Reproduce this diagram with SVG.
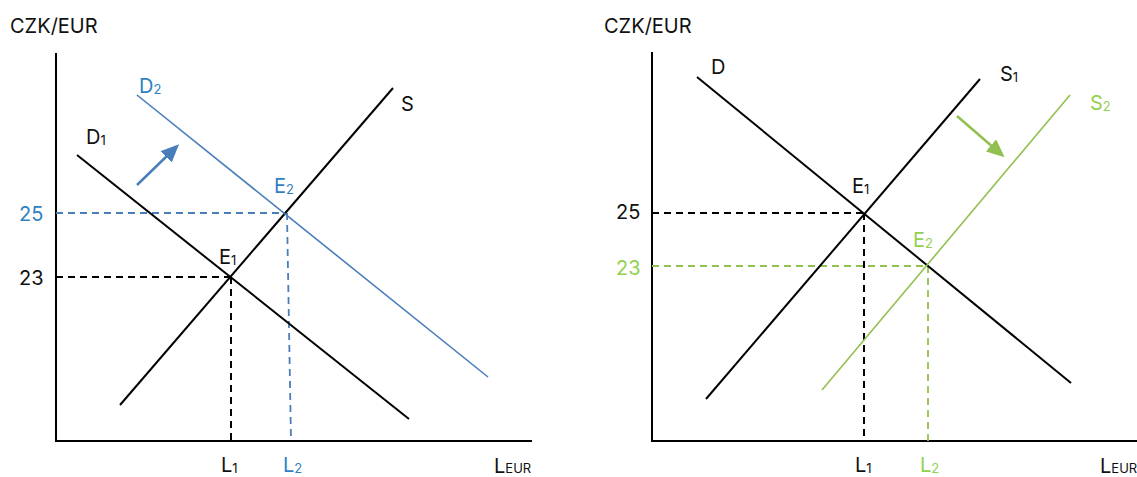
<svg xmlns="http://www.w3.org/2000/svg" width="1137" height="477" viewBox="0 0 1137 477">
<defs>
<style>
text{font-family:Inter,"Liberation Sans",sans-serif;font-size:20px;fill:#111}
.sub{font-size:13px}
.blue{fill:#2f7fc1}
.green{fill:#92d050}
.ax{stroke:#000;stroke-width:2;fill:none}
.k{stroke:#000;stroke-width:2;fill:none}
.b{stroke:#4a7ebb;stroke-width:1.6;fill:none}
.g{stroke:#92c050;stroke-width:1.6;fill:none}
.dk{stroke:#000;stroke-width:2;stroke-dasharray:7,5;fill:none}
.db{stroke:#4a7ebb;stroke-width:1.8;stroke-dasharray:7,5;fill:none}
.dg{stroke:#92c050;stroke-width:1.8;stroke-dasharray:7,5;fill:none}
</style>
<marker id="ab" markerWidth="18" markerHeight="16" refX="4" refY="8" orient="auto" markerUnits="userSpaceOnUse" viewBox="0 0 18 16"><path d="M0,0 L18,8 L0,16 z" fill="#4a7ebb"/></marker>
<marker id="ag" markerWidth="18" markerHeight="16" refX="4" refY="8" orient="auto" markerUnits="userSpaceOnUse" viewBox="0 0 18 16"><path d="M0,0 L18,8 L0,16 z" fill="#92c050"/></marker>
</defs>
<g id="connectors">
<path class="ax" d="M56,53 V441 H532"/>
<path class="dk" d="M56,277 H231 M231,277 V441"/>
<path class="db" d="M56,213 H286 M287,213 L291,441"/>
<path class="k" d="M77,155 L409,419"/>
<path class="k" d="M120,405 L393,88"/>
<path class="b" d="M137,95 L488,377"/>
<line x1="137" y1="185" x2="169" y2="154" stroke="#4a7ebb" stroke-width="2.5" marker-end="url(#ab)"/>
<path class="ax" d="M652,52 V441 H1137"/>
<path class="dk" d="M652,213 H864 M864,213 V441"/>
<path class="dg" d="M652,266 H928 M928,266 V441"/>
<path class="k" d="M697,77 L1071,383"/>
<path class="k" d="M706,399 L980,79"/>
<path class="g" d="M822,390 L1070,95"/>
<line x1="957" y1="116" x2="994" y2="148" stroke="#92c050" stroke-width="2.5" marker-end="url(#ag)"/>
</g>
<g id="left-labels">
<text x="10" y="33">CZK/EUR</text>
<text x="139" y="93" class="blue">D<tspan class="sub" dy="1">2</tspan></text>
<text x="86" y="144">D<tspan class="sub" dy="1">1</tspan></text>
<text x="401" y="111">S</text>
<text x="274" y="193" class="blue">E<tspan class="sub" dy="1">2</tspan></text>
<text x="219" y="264">E<tspan class="sub" dy="1">1</tspan></text>
<text x="19" y="221" class="blue">25</text>
<text x="19" y="285">23</text>
<text x="221" y="472">L<tspan class="sub" dy="1">1</tspan></text>
<text x="283" y="472" class="blue">L<tspan class="sub" dy="1">2</tspan></text>
<text x="494" y="473">L<tspan class="sub">EUR</tspan></text>
</g>
<g id="right-labels">
<text x="604" y="33">CZK/EUR</text>
<text x="711" y="74">D</text>
<text x="1000" y="81">S<tspan class="sub" dy="1">1</tspan></text>
<text x="1090" y="110" class="green">S<tspan class="sub" dy="1">2</tspan></text>
<text x="852" y="193">E<tspan class="sub" dy="1">1</tspan></text>
<text x="913" y="247" class="green">E<tspan class="sub" dy="1">2</tspan></text>
<text x="616" y="219">25</text>
<text x="616" y="275" class="green">23</text>
<text x="855" y="472">L<tspan class="sub" dy="1">1</tspan></text>
<text x="920" y="472" class="green">L<tspan class="sub" dy="1">2</tspan></text>
<text x="1100" y="473">L<tspan class="sub">EUR</tspan></text>
</g>
</svg>
